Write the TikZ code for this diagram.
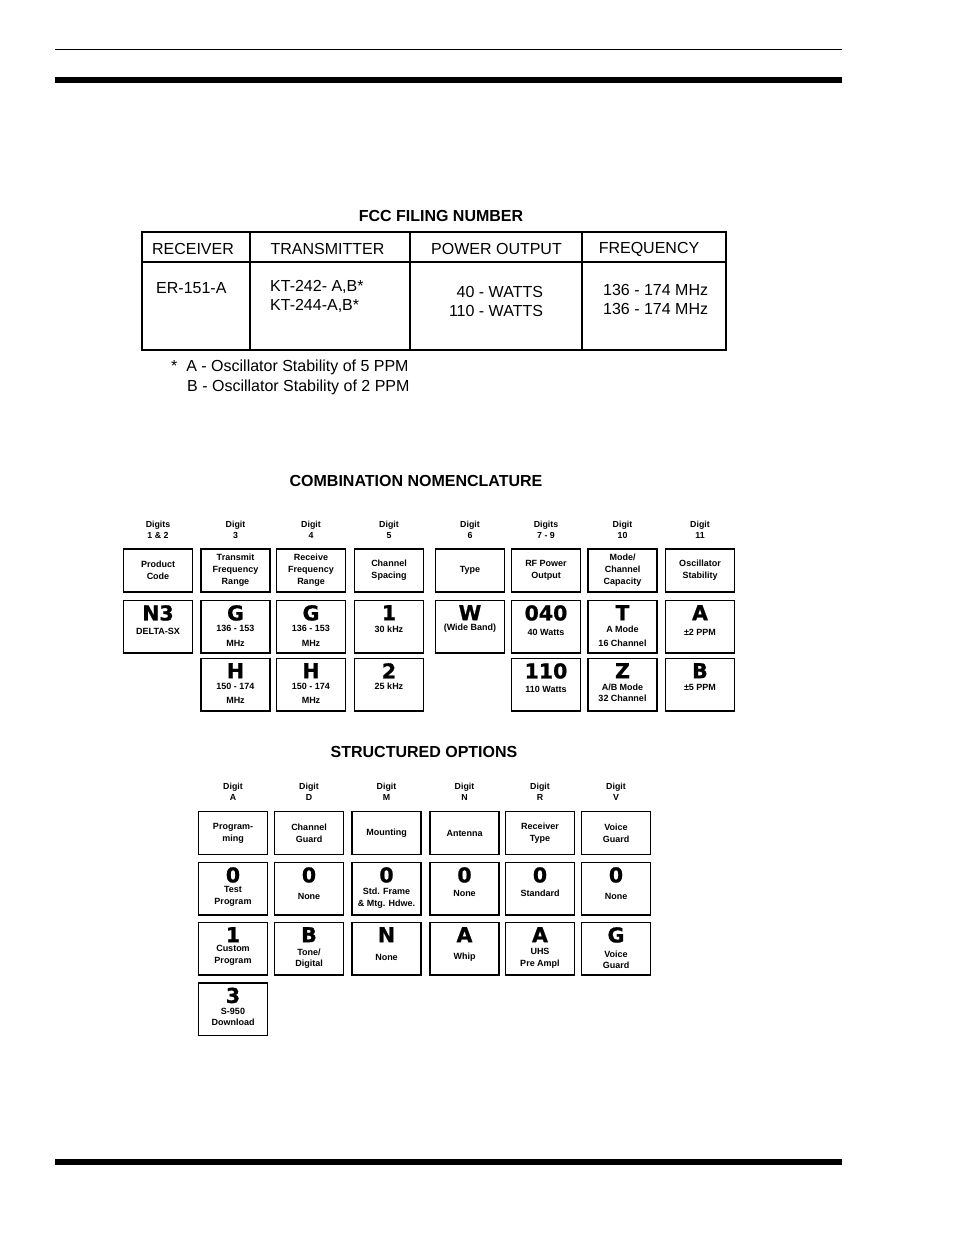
\documentclass[tikz,border=0pt]{standalone}
\usepackage{fontspec}
\setmainfont{Liberation Sans}
\newfontfamily\heavyfont[FakeBold=1]{DejaVu Sans Bold}

% value cell: name, x, box top, letter, text, text centre
\newcommand{\valcell}[6]{%
  \node[valbox] (#1) at (#2,#3) {};
  \node[bigchar] (#1l) at (#2,#3+5.5) {#4};
  \node[subtext] (#1t) at (#2,#6) {#5};
}

\begin{document}
\begin{tikzpicture}[x=1pt, y=-1pt,
  title/.style={font=\bfseries\fontsize{16}{19}\selectfont, inner sep=0pt},
  tabtext/.style={font=\fontsize{16}{19}\selectfont, inner sep=0pt},
  digitlbl/.style={font=\bfseries\fontsize{8.8}{11}\selectfont, align=center, inner sep=0pt},
  namebox/.style={draw, line width=1.8pt, minimum width=69, minimum height=43, inner sep=0pt,
    align=center, font=\bfseries\fontsize{9}{12}\selectfont},
  valbox/.style={draw, line width=1.8pt, minimum width=69, minimum height=52.5, inner sep=0pt, anchor=north},
  bigchar/.style={font=\heavyfont\fontsize{20.5}{21}\selectfont, inner sep=0pt, anchor=north},
  subtext/.style={font=\bfseries\fontsize{9}{11.5}\selectfont, align=center, inner sep=0pt}]
\useasboundingbox (0,0) rectangle (954,1235);

% page rules
\draw[line width=1pt] (55,49) -- (842,49);
\draw[line width=6pt] (55,80) -- (842,80);
\draw[line width=6pt] (55,1162) -- (842,1162);

% FCC filing number table
\node[title] (fcc) at (441,216) {FCC FILING NUMBER};
\draw[line width=1.2pt] (142,232) rectangle (726,350);
\draw[line width=1.2pt] (142,262) -- (726,262);
\foreach \x in {250,410,582}
  \draw[line width=1.2pt] (\x,232) -- (\x,350);
\node[tabtext] (hrx) at (193,249) {RECEIVER};
\node[tabtext] (htx) at (327.5,249) {TRANSMITTER};
\node[tabtext] (hpo) at (496.5,249) {POWER OUTPUT};
\node[tabtext] (hfr) at (649,249) {FREQUENCY};
\node[tabtext, anchor=west] (rx) at (156,288) {ER-151-A};
\node[tabtext, anchor=west, align=left] (tx) at (270,296.5) {KT-242- A,B*\\KT-244-A,B*};
\node[tabtext, align=right] (po) at (496,301) {40 - WATTS\\110 - WATTS};
\node[tabtext, anchor=west, align=left] (fr) at (603,299.5) {136 - 174 MHz\\136 - 174 MHz};
\node[tabtext, anchor=west] (fna) at (171,367) {*\ \ A - Oscillator Stability of 5 PPM};
\node[tabtext, anchor=west] (fnb) at (187,387) {B - Oscillator Stability of 2 PPM};

% combination nomenclature
\node[title] (comb) at (416,481) {COMBINATION NOMENCLATURE};
\foreach \cx/\id/\dg/\lbl in {
    158/pc/{Digits\\1 \& 2}/{Product\\Code},
    235.5/tf/{Digit\\3}/{Transmit\\Frequency\\Range},
    311/rf/{Digit\\4}/{Receive\\Frequency\\Range},
    389/cs/{Digit\\5}/{Channel\\Spacing},
    470/ty/{Digit\\6}/{Type},
    546/po/{Digits\\7 - 9}/{RF Power\\Output},
    622.5/mc/{Digit\\10}/{Mode/\\Channel\\Capacity},
    700/os/{Digit\\11}/{Oscillator\\Stability}}
{
  \node[digitlbl] (d-\id) at (\cx,529.5) {\dg};
  \node[namebox] (n-\id) at (\cx,570.5) {\lbl};
}
\valcell{v-pc}{158}{599.5}{N3}{DELTA-SX}{631}
\valcell{v-tfg}{235.5}{599.5}{G}{136 - 153\\[3pt]MHz}{636}
\valcell{v-rfg}{311}{599.5}{G}{136 - 153\\[3pt]MHz}{636}
\valcell{v-cs1}{389}{599.5}{1}{30 kHz}{629}
\valcell{v-tyw}{470}{599.5}{W}{(Wide Band)}{628.5}
\valcell{v-po40}{546}{599.5}{040}{40 Watts}{632.5}
\valcell{v-mct}{622.5}{599.5}{T}{A Mode\\[2pt]16 Channel}{636.5}
\valcell{v-osa}{700}{599.5}{A}{±2 PPM}{632}
\valcell{v-tfh}{235.5}{657.5}{H}{150 - 174\\[3pt]MHz}{693.5}
\valcell{v-rfh}{311}{657.5}{H}{150 - 174\\[3pt]MHz}{693.5}
\valcell{v-cs2}{389}{657.5}{2}{25 kHz}{686.5}
\valcell{v-po110}{546}{657.5}{110}{110 Watts}{689.5}
\valcell{v-mcz}{622.5}{657.5}{Z}{A/B Mode\\32 Channel}{693}
\valcell{v-osb}{700}{657.5}{B}{±5 PPM}{687}

% structured options
\node[title] (stru) at (424,752) {STRUCTURED OPTIONS};
\foreach \cx/\id/\dg/\lbl in {
    233/pg/A/{Program-\\ming},
    309/cg/D/{Channel\\Guard},
    386.5/mt/M/{Mounting},
    464.5/an/N/{Antenna},
    540/rt/R/{Receiver\\Type},
    616/vg/V/{Voice\\Guard}}
{
  \node[digitlbl] (s-\id) at (\cx,792) {Digit\\\dg};
  \node[namebox] (m-\id) at (\cx,833) {\lbl};
}
\valcell{o-pg0}{233}{861.5}{0}{Test\\Program}{896.5}
\valcell{o-cg0}{309}{861.5}{0}{None}{896}
\valcell{o-mt0}{386.5}{861.5}{0}{Std. Frame\\\& Mtg. Hdwe.}{898}
\valcell{o-an0}{464.5}{861.5}{0}{None}{893}
\valcell{o-rt0}{540}{861.5}{0}{Standard}{893}
\valcell{o-vg0}{616}{861.5}{0}{None}{896}
\valcell{o-pg1}{233}{921.5}{1}{Custom\\Program}{955.5}
\valcell{o-cgb}{309}{921.5}{B}{Tone/\\Digital}{958.5}
\valcell{o-mtn}{386.5}{921.5}{N}{None}{957}
\valcell{o-ana}{464.5}{921.5}{A}{Whip}{957}
\valcell{o-rta}{540}{921.5}{A}{UHS\\Pre Ampl}{958.5}
\valcell{o-vgg}{616}{921.5}{G}{Voice\\Guard}{960}
\valcell{o-pg3}{233}{982}{3}{S-950\\Download}{1017}
\end{tikzpicture}
\end{document}
